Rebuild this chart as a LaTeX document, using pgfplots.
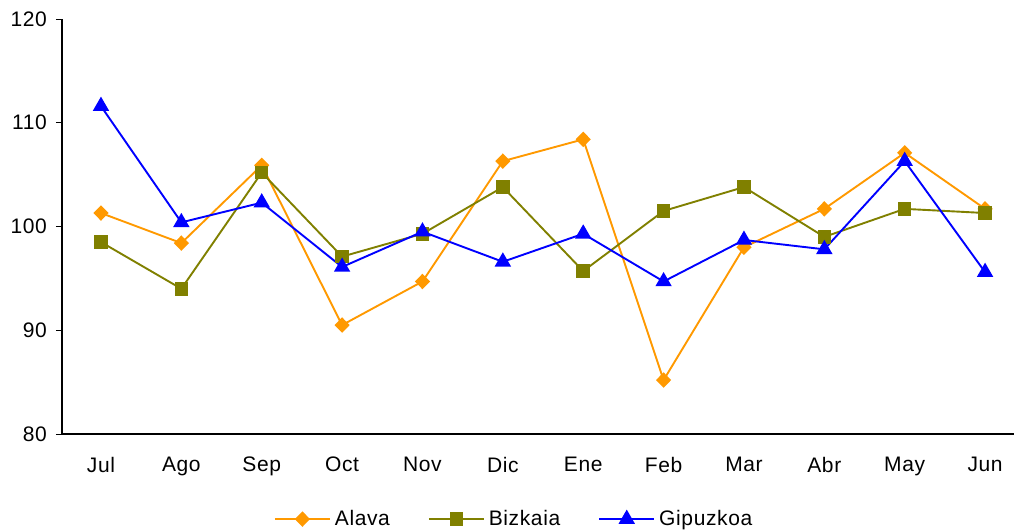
\documentclass[border=0pt]{standalone}
\usepackage{fontspec}
\setmainfont{Liberation Sans}[LetterSpace=3]
\usepackage{pgfplots}
\pgfplotsset{compat=1.18}

\definecolor{alava}{HTML}{FF9900}
\definecolor{bizkaia}{HTML}{808000}
\definecolor{gipuzkoa}{HTML}{0000FF}

\begin{document}
\begin{tikzpicture}
  \begin{axis}[
    scale only axis,
    width=476pt, height=207.5pt,
    xmin=-0.485, xmax=11.36,
    ymin=80, ymax=120,
    ytick={80,90,100,110,120},
    xtick={0,...,11},
    xticklabels={Jul,Ago,Sep,Oct,Nov,Dic,Ene,Feb,Mar,Abr,May,Jun},
    axis x line*=bottom,
    axis y line*=left,
    x axis line style={-},
    y axis line style={-},
    major x tick style={draw=none},
    ytick style={black, line width=0.5pt},
    tick align=outside,
    major tick length=3pt,
    axis line style={line width=0.6pt},
    font=\fontsize{10.5}{12}\selectfont,
    /pgf/number format/assume math mode=true,
    yticklabel style={xshift=-1pt},
    xticklabel style={yshift=-5pt},
    legend style={at={(0.476,-0.205)}, anchor=center, draw=none,
      legend columns=3, font=\fontsize{10.5}{12}\selectfont,
      /tikz/every even column/.append style={column sep=17pt}},
    legend cell align=left,
    legend image code/.code={%
      \draw[mark repeat=2, mark phase=2, #1]
        plot coordinates {(0pt,0pt) (13.75pt,0pt) (27.5pt,0pt)};},
    clip=false,
  ]
    \addplot[alava, line width=0.95pt, mark=diamond*, mark size=3.2pt,
      mark options={xscale=1.3}]
    coordinates {
      (0,101.3) (1,98.4) (2,105.9) (3,90.5) (4,94.7) (5,106.3)
      (6,108.4) (7,85.2) (8,98.0) (9,101.7) (10,107.1) (11,101.7)
    };
    \addlegendentry{Alava}
    \addplot[bizkaia, line width=0.95pt, mark=square*, mark size=2.9pt]
    coordinates {
      (0,98.5) (1,94.0) (2,105.2) (3,97.1) (4,99.3) (5,103.8)
      (6,95.7) (7,101.5) (8,103.8) (9,99.0) (10,101.7) (11,101.3)
    };
    \addlegendentry{Bizkaia}
    \addplot[gipuzkoa, line width=0.95pt, mark=triangle*, mark size=3.8pt]
    coordinates {
      (0,111.6) (1,100.4) (2,102.3) (3,96.1) (4,99.5) (5,96.6)
      (6,99.3) (7,94.7) (8,98.7) (9,97.8) (10,106.3) (11,95.6)
    };
    \addlegendentry{Gipuzkoa}
  \end{axis}
  \pgfresetboundingbox
  \path (-31pt,-48.5pt) rectangle (476.5pt,217pt);
\end{tikzpicture}
\end{document}
